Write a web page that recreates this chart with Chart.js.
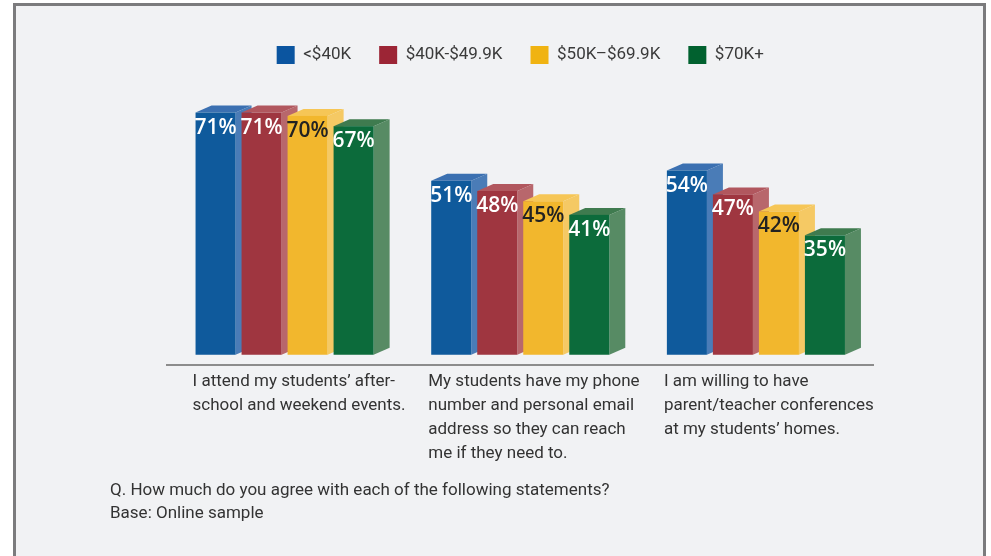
<!DOCTYPE html>
<html>
<head>
<meta charset="utf-8">
<script src="https://cdn.jsdelivr.net/npm/chart.js@4"></script>
<style>
  body { margin: 0; background: #fff; }
  #frame {
    position: absolute; left: 13px; top: 3px; width: 967px; height: 600px;
    border: 3px solid #7b7b7d; background: #f1f2f4;
  }
  #wrap { position: absolute; left: 0; top: 3px; width: 967px; height: 470px; }
  #note {
    position: absolute; left: 94px; top: 472px;
    font-family: Roboto, sans-serif; font-size: 17px;
    line-height: 23px; color: #333;
  }
</style>
</head>
<body>
<div id="frame">
  <div id="wrap"><canvas id="chart"></canvas></div>
  <div id="note">Q. How much do you agree with each of the following statements?<br>Base: Online sample</div>
</div>
<script>
var categories = [
    ['I attend my students’ after-', 'school and weekend events.'],
    ['My students have my phone', 'number and personal email', 'address so they can reach', 'me if they need to.'],
    ['I am willing to have', 'parent/teacher conferences', 'at my students’ homes.']
];
var seriesNames = ['<$40K', '$40K-$49.9K', '$50K–$69.9K', '$70K+'];
var under40k = [71, 51, 54];
var from40kTo50k = [71, 48, 47];
var from50kTo70k = [70, 45, 42];
var over70k = [67, 41, 35];

// front / side / top faces and label colour per series
var faces = [
    { front: '#0f5a9c', side: '#4a7cb7', top: '#3b70b1', legend: '#0b55a0', text: '#ffffff' },
    { front: '#9f3640', side: '#b8676c', top: '#b1575e', legend: '#9c2535', text: '#ffffff' },
    { front: '#f2b72d', side: '#f5c964', top: '#f6c656', legend: '#f0b312', text: '#222222' },
    { front: '#0c6b3b', side: '#578b64', top: '#3f7b4f', legend: '#01612f', text: '#ffffff' }
];
var DEPTH_X = 16, DEPTH_Y = -7;

var bars3d = {
    id: 'bars3d',
    beforeDatasetsDraw: function (chart) {
        var ctx = chart.ctx;
        ctx.save();
        for (var j = 0; j < categories.length; j++) {
            for (var i = 0; i < chart.data.datasets.length; i++) {
                var el = chart.getDatasetMeta(i).data[j];
                var p = el.getProps(['x', 'y', 'base', 'width'], true);
                var l = p.x - p.width / 2, r = p.x + p.width / 2;
                var f = faces[i];
                // side
                ctx.fillStyle = f.side;
                ctx.beginPath();
                ctx.moveTo(r, p.y);
                ctx.lineTo(r + DEPTH_X, p.y + DEPTH_Y);
                ctx.lineTo(r + DEPTH_X, p.base + DEPTH_Y);
                ctx.lineTo(r, p.base);
                ctx.closePath();
                ctx.fill();
                // top
                ctx.fillStyle = f.top;
                ctx.beginPath();
                ctx.moveTo(l, p.y);
                ctx.lineTo(l + DEPTH_X, p.y + DEPTH_Y);
                ctx.lineTo(r + DEPTH_X, p.y + DEPTH_Y);
                ctx.lineTo(r, p.y);
                ctx.closePath();
                ctx.fill();
                // front
                ctx.fillStyle = f.front;
                ctx.fillRect(l, p.y, p.width, p.base - p.y);
                // value label
                ctx.fillStyle = f.text;
                ctx.font = '600 21px "Open Sans", sans-serif';
                ctx.textAlign = 'center';
                ctx.textBaseline = 'alphabetic';
                ctx.fillText(chart.data.datasets[i].data[j] + '%', p.x, p.y + 21);
            }
        }
        ctx.restore();
        return false;
    }
};

var ctx = document.getElementById('chart').getContext('2d');
new Chart(ctx, {
    type: 'bar',
    data: {
        labels: categories,
        datasets: [
            { label: seriesNames[0], data: under40k, backgroundColor: faces[0].legend },
            { label: seriesNames[1], data: from40kTo50k, backgroundColor: faces[1].legend },
            { label: seriesNames[2], data: from50kTo70k, backgroundColor: faces[2].legend },
            { label: seriesNames[3], data: over70k, backgroundColor: faces[3].legend }
        ]
    },
    options: {
        responsive: true,
        maintainAspectRatio: false,
        animation: false,
        categoryPercentage: 0.781,
        barPercentage: 0.87,
        layout: { padding: { left: 150.75, right: 109.25, top: 9, bottom: 8 } },
        plugins: {
            legend: {
                position: 'top',
                labels: {
                    boxWidth: 18,
                    boxHeight: 18,
                    padding: 28,
                    color: '#3a3a3a',
                    font: { family: 'Roboto', size: 17 }
                }
            },
            tooltip: { enabled: false }
        },
        scales: {
            x: {
                grid: { display: false, drawTicks: false },
                border: { display: true, color: '#8c8c8c', width: 2 },
                ticks: {
                    color: '#333',
                    font: { family: 'Roboto', size: 17, lineHeight: 1.412 },
                    align: 'start',
                    labelOffset: -92,
                    padding: 5,
                    autoSkip: false,
                    maxRotation: 0
                },
                afterFit: function (scale) {
                    // labels hang left of their tick, keep the plot width fixed
                    scale.paddingLeft = 0;
                    scale.paddingRight = 0;
                }
            },
            y: {
                display: false,
                min: -3,
                max: 82.3
            }
        }
    },
    plugins: [bars3d]
});
</script>
</body>
</html>
